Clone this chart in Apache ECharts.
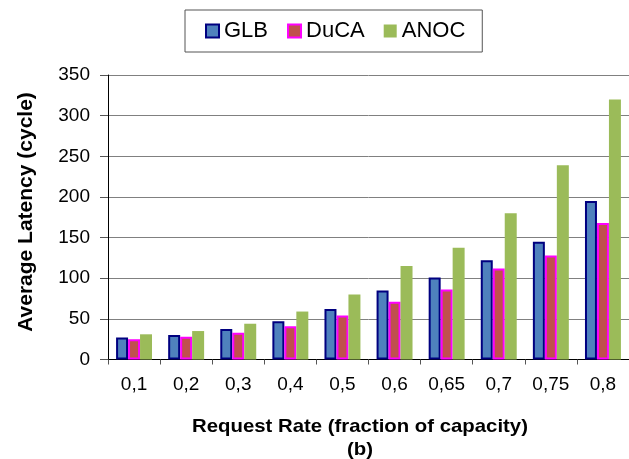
<!DOCTYPE html>
<html>
<head>
<meta charset="utf-8">
<script src="https://cdn.jsdelivr.net/npm/echarts@6/dist/echarts.min.js"></script>
<style>html,body{margin:0;padding:0;background:#fff}#c{width:629px;height:459px}</style>
</head>
<body>
<div id="c"></div>
<script>
const categories = ['0,1','0,2','0,3','0,4','0,5','0,6','0,65','0,7','0,75','0,8'];
const glb  = [27, 30, 37.5, 47, 62, 85, 101, 122, 145, 195];
const duca = [25, 28, 33, 41, 54, 71, 86, 112, 128, 168];
const anoc = [31, 35, 44, 59, 80, 115, 137.5, 180, 239, 320];
const yTicks = {min: 0, max: 350, interval: 50};
const xTitle = 'Request Rate (fraction of capacity)';
const subTitle = '(b)';
const yTitle = 'Average Latency (cycle)';

const FONT = '"Liberation Sans", Arial, sans-serif';
const chart = echarts.init(document.getElementById('c'), null, {renderer: 'canvas'});
chart.setOption({
  animation: false,
  backgroundColor: '#fff',
  textStyle: {fontFamily: FONT, color: '#000'},
  grid: {left: 108, right: 0, top: 75, bottom: 99.5, containLabel: false, outerBoundsMode: 'none'},
  legend: {
    left: 185, top: 10,
    padding: [10, 17, 10, 20],
    itemGap: 19, itemWidth: 13, itemHeight: 13,
    borderColor: '#555', borderWidth: 1,
    icon: 'rect',
    textStyle: {fontSize: 22, fontFamily: FONT, color: '#000'},
    data: ['GLB', 'DuCA', 'ANOC']
  },
  xAxis: {
    type: 'category',
    data: categories,
    axisLine: {lineStyle: {color: '#000', width: 1}},
    axisTick: {show: true, length: 5, alignWithLabel: false, lineStyle: {color: '#555'}},
    axisLabel: {fontSize: 19, color: '#000', margin: 16, fontFamily: FONT}
  },
  yAxis: {
    type: 'value',
    min: yTicks.min, max: yTicks.max, interval: yTicks.interval,
    axisLine: {show: true, lineStyle: {color: '#000', width: 1}},
    axisTick: {show: true, length: 8, lineStyle: {color: '#555'}},
    axisLabel: {fontSize: 19, color: '#000', margin: 18, fontFamily: FONT},
    splitLine: {show: true, lineStyle: {color: '#808080', width: 1}}
  },
  graphic: [
    {type: 'text', x: 360, y: 427, scaleX: 1.1, style: {text: xTitle, font: 'bold 18.5px ' + FONT, fill: '#000', align: 'center', verticalAlign: 'middle'}},
    {type: 'text', x: 360, y: 450, scaleX: 1.1, style: {text: subTitle, font: 'bold 18.5px ' + FONT, fill: '#000', align: 'center', verticalAlign: 'middle'}},
    {type: 'text', x: 26, y: 212, rotation: Math.PI / 2, style: {text: yTitle, font: 'bold 21px ' + FONT, fill: '#000', align: 'center', verticalAlign: 'middle'}}
  ],
  series: [
    {name: 'GLB', type: 'bar', data: glb, barGap: '0%', barCategoryGap: '31%',
     itemStyle: {color: '#4F81BD', borderColor: '#000080', borderWidth: 2}},
    {name: 'DuCA', type: 'bar', data: duca, barGap: '0%', barCategoryGap: '31%',
     itemStyle: {color: '#C0504D', borderColor: '#FF00FF', borderWidth: 2}},
    {name: 'ANOC', type: 'bar', data: anoc, barGap: '0%', barCategoryGap: '31%',
     itemStyle: {color: '#9BBB59'}}
  ]
});
</script>
</body>
</html>
